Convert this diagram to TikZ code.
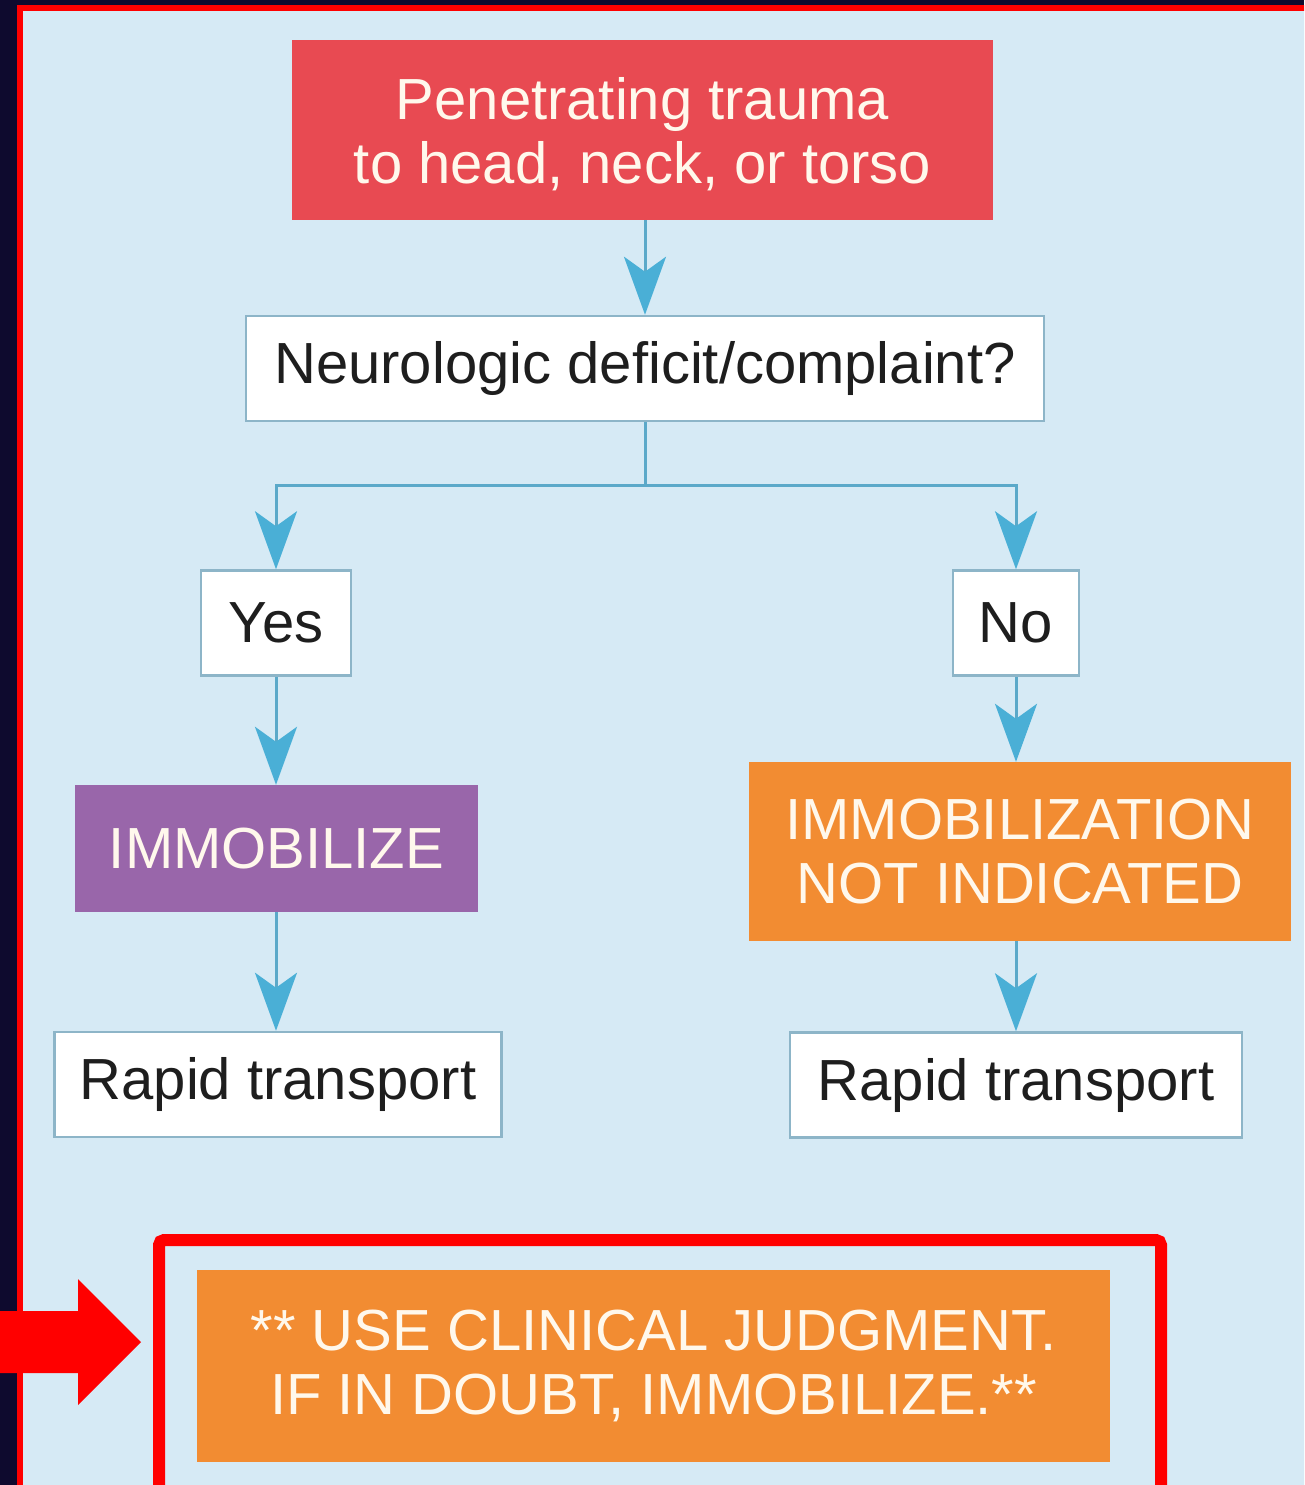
\documentclass[tikz,border=0pt]{standalone}
\usepackage{fontspec}
\setmainfont{Liberation Sans}
\usetikzlibrary{arrows.meta,calc}
\definecolor{navy}{HTML}{0E0A2E}
\definecolor{paleblue}{HTML}{D6EAF5}
\definecolor{frame}{HTML}{FF0000}
\definecolor{topred}{HTML}{E84A52}
\definecolor{purp}{HTML}{9966AA}
\definecolor{orng}{HTML}{F28C32}
\definecolor{conn}{HTML}{5BA9C9}
\definecolor{headc}{HTML}{4AAFD6}
\definecolor{boxline}{HTML}{8DB5C8}
\definecolor{cream}{HTML}{FFF8EC}
\definecolor{ink}{HTML}{1E1E1E}
\tikzset{
  basebox/.style={rectangle, inner sep=0pt, align=center, font=\fontsize{58}{64}\selectfont},
  whitebox/.style={basebox, fill=white, draw=boxline, line width=2.5pt, text=ink},
  colbox/.style={basebox, text=cream},
  conline/.style={draw=conn, line width=3pt},
  arr/.style={conline, -{Stealth[length=58pt, width=42pt, inset=15pt, color=headc]}},
}
\begin{document}
\begin{tikzpicture}[x=1pt, y=-1pt]
\useasboundingbox (0,0) rectangle (1304,1485);
\clip (0,0) rectangle (1304,1485);
% background and frame
\fill[navy] (0,0) rectangle (1304,1485);
\filldraw[fill=paleblue, draw=frame, line width=6pt] (20,8) rectangle (1330,1510);
% nodes
\node[colbox, fill=topred, minimum width=701pt, minimum height=180pt, text depth=0pt] (top) at (642.5,130) {Penetrating trauma\\to head, neck, or torso};
\node[whitebox, minimum width=798pt, minimum height=105pt] (neuro) at (645,368.5) {\raisebox{-3pt}{Neurologic deficit/complaint?}};
\node[whitebox, minimum width=150pt, minimum height=105pt] (yes) at (276,623) {\raisebox{-3pt}{Yes}};
\node[whitebox, minimum width=126pt, minimum height=105pt] (no) at (1016,623) {\raisebox{-3pt}{No}};
\node[colbox, fill=purp, minimum width=403pt, minimum height=127pt] (immob) at (276.5,848.5) {IMMOBILIZE};
\node[colbox, fill=orng, minimum width=542pt, minimum height=179pt] (notind) at (1020,851.5) {IMMOBILIZATION\\NOT INDICATED};
\node[whitebox, minimum width=447pt, minimum height=105pt] (rapidL) at (278,1084.5) {Rapid transport};
\node[whitebox, minimum width=452pt, minimum height=105pt] (rapidR) at (1016,1085) {Rapid transport};
\node[colbox, fill=orng, minimum width=913pt, minimum height=192pt] (judge) at (653.5,1366) {** USE CLINICAL JUDGMENT.\\IF IN DOUBT, IMMOBILIZE.**};
% connectors
\coordinate (split) at ($(neuro.south)+(0,63)$);
\draw[arr] (top.south -| neuro.north) -- (neuro.north);
\draw[conline] (neuro.south) -- (split);
\draw[arr] (split) -| (yes.north);
\draw[arr] (split) -| (no.north);
\draw[arr] (yes.south) -- (yes.south |- immob.north);
\draw[arr] (immob.south -| yes.south) -- (yes.south |- rapidL.north);
\draw[arr] (no.south) -- (no.south |- notind.north);
\draw[arr] (notind.south -| no.south) -- (no.south |- rapidR.north);
% highlight box and pointer
\node[draw=frame, line width=12pt, rounded corners=5pt, minimum width=1002pt, minimum height=300pt, inner sep=0pt] (hl) at (660,1390) {};
\fill[frame] (0,1311) -- (78,1311) -- (78,1279) -- (141,1342) -- (78,1405) -- (78,1373) -- (0,1373) -- cycle;
\end{tikzpicture}
\end{document}
